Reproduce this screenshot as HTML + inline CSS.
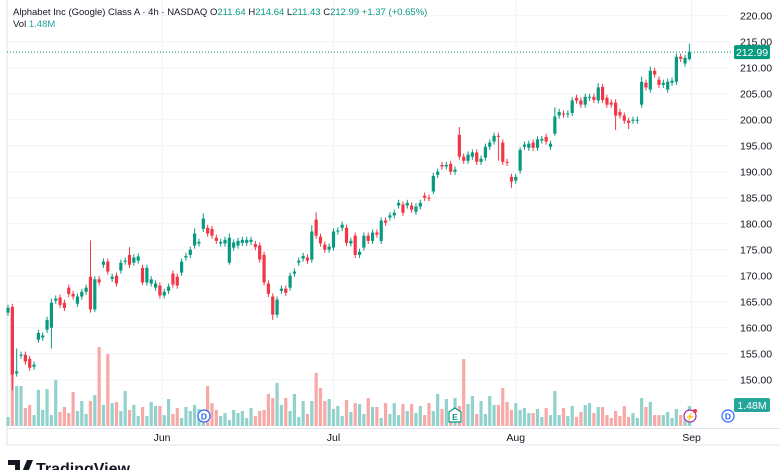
<!DOCTYPE html>
<html><head><meta charset="utf-8"><style>
body{margin:0;background:#fff;width:780px;height:470px;overflow:hidden;font-family:"Liberation Sans",sans-serif}
svg{display:block}
</style></head><body>
<svg id="chart" width="780" height="470" xmlns="http://www.w3.org/2000/svg">
<rect x="0" y="0" width="780" height="470" fill="#fff"/>
<g id="grid"></g>
<g id="vol"></g>
<g id="candles"></g>
<g id="axis"></g>
<g id="overlay"></g>
</svg>
<script>
const openP=[162.9,164.0,151.2,154.6,154.8,154.0,152.5,157.7,158.1,159.6,160.0,165.2,165.8,164.8,167.7,166.5,164.6,166.0,166.9,169.8,163.5,169.3,172.1,172.7,169.4,170.0,171.0,172.7,174.0,172.5,172.9,171.5,168.7,168.5,167.7,168.1,166.2,167.1,170.4,169.8,170.6,173.5,174.0,175.8,176.2,179.0,179.2,179.0,177.3,176.2,176.2,172.5,175.4,175.8,176.3,176.3,176.5,176.1,175.8,174.0,168.5,166.0,162.5,167.1,167.5,167.7,170.4,172.5,173.3,173.5,173.1,180.8,177.5,176.0,175.0,175.4,178.5,179.2,179.2,176.2,177.7,174.0,175.4,177.7,176.7,178.3,176.7,180.6,181.2,181.6,183.5,183.7,183.5,183.5,182.3,183.3,185.4,185.0,186.2,189.4,191.3,191.0,191.5,190.0,197.1,192.9,192.1,192.9,193.7,191.9,192.7,194.8,195.8,196.9,195.6,191.9,189.0,188.3,190.2,194.8,194.6,195.6,194.6,196.0,196.7,194.8,197.3,200.8,201.2,201.0,201.3,204.2,203.7,202.9,204.2,204.4,203.7,206.3,204.2,203.3,203.3,201.5,200.8,199.8,199.8,199.8,202.9,207.1,205.8,209.4,207.7,206.7,205.8,207.1,207.3,212.1,210.8,211.64];
const closeP=[163.8,151.0,151.6,154.8,153.5,152.3,152.9,159.0,158.5,161.5,164.8,165.6,164.4,163.8,166.5,166.0,166.0,166.9,167.7,163.5,169.3,168.7,172.7,170.8,169.8,168.5,172.5,172.9,172.1,173.5,173.7,168.7,171.5,169.3,168.5,166.2,166.9,167.9,168.3,168.1,172.7,173.8,175.0,178.1,176.5,181.0,178.1,177.7,176.7,176.5,176.9,177.3,176.4,176.7,176.9,176.9,176.9,175.5,173.1,168.7,166.5,162.5,165.4,167.5,166.7,170.0,170.8,172.9,173.8,172.9,178.5,177.7,176.2,175.0,175.6,178.5,178.7,179.8,176.3,176.7,174.0,174.6,177.7,176.7,178.3,177.9,180.6,180.2,181.6,182.1,184.0,182.1,184.0,182.7,183.3,184.0,185.0,184.9,189.2,190.0,191.0,191.3,190.0,190.4,192.9,192.1,193.3,193.7,191.9,192.5,194.8,195.6,196.9,196.7,191.9,191.7,188.1,189.0,194.2,195.2,195.4,194.6,196.2,196.3,195.8,195.4,200.6,201.5,201.0,201.2,203.7,203.7,202.9,204.4,204.4,203.8,206.2,203.8,202.9,202.9,200.8,200.8,199.8,199.4,200.0,200.0,207.3,206.2,209.4,208.7,206.7,207.1,207.3,207.5,212.1,211.7,211.9,212.99];
const wickDefault=0.6;
const highExtra={2:4.4,10:0.8,19:7.0,28:1.5,43:1.0,45:1.0,51:0.8,59:0.6,70:1.2,71:1.4,104:1.5,118:0.5,126:1.8,131:0.6,136:0.8,146:1.0,148:0.8,157:1.65};
const lowExtra={1:3.0,10:4.0,20:0.5,31:0.5,51:0.4,61:1.0,98:0.5,113:4.6,116:1.2,140:2.8,143:1.2,126:0.4,157:0.2};
const volM=[0.67,7.85,2.96,2.96,1.33,1.56,0.81,2.67,1.19,2.74,0.81,3.41,1.04,1.41,0.96,2.52,1.11,1.85,0.89,1.85,2.30,5.85,1.56,5.33,1.70,1.78,1.11,2.59,1.19,1.56,0.74,1.41,0.74,1.78,1.48,1.48,0.81,2.00,0.89,1.33,0.59,1.41,1.11,1.56,1.26,0.59,2.96,1.70,1.19,0.74,0.96,0.44,1.19,0.96,1.11,0.59,1.33,0.74,
1.11,1.19,2.37,2.07,3.19,1.56,2.07,1.11,2.37,0.67,1.85,0.89,1.85,3.93,2.81,1.85,2.00,1.26,1.48,0.74,1.93,1.04,1.70,1.63,0.89,2.07,1.41,1.41,0.59,1.70,0.89,1.70,0.81,1.63,1.11,1.63,0.96,1.48,0.81,1.70,1.11,2.37,1.26,2.00,0.96,2.07,1.48,4.96,1.63,2.22,0.89,1.85,0.89,2.22,1.56,1.56,
2.81,1.78,1.19,1.70,1.19,1.33,0.96,0.96,1.26,0.67,1.33,0.81,2.59,0.81,1.33,0.74,1.48,0.67,1.04,1.56,1.70,0.96,1.41,1.41,0.81,0.59,1.11,0.74,1.48,0.67,0.96,0.59,2.07,1.41,1.78,0.81,0.81,0.81,1.04,0.59,1.26,0.81,0.59,1.48];
const priceTicks=[150,155,160,165,170,175,180,185,190,195,200,205,210,215,220];
const monthLabels=["Jun","Jul","Aug","Sep"];
const monthIndex=[35.5,75,117,157.5];

const NS="http://www.w3.org/2000/svg";
const plotL=7,plotR=730,volBase=426;
function xOf(i){return 8+i*4.34;}
function yOf(p){return 41.7+(215-p)*5.2;}
function hVol(v){return v*13.5;}
function mk(tag,attrs,parent){const e=document.createElementNS(NS,tag);for(const k in attrs)e.setAttribute(k,attrs[k]);parent.appendChild(e);return e;}
const G=document.getElementById('grid'),V=document.getElementById('vol'),C=document.getElementById('candles'),A=document.getElementById('axis'),O=document.getElementById('overlay');

let fr=mk('rect',{x:plotL,y:-1,width:780-plotL+1,height:446,fill:'none',stroke:'#e0e3eb','stroke-width':1},G);


priceTicks.forEach(p=>{
  const y=yOf(p);
  let l=mk('line',{x1:plotL,x2:plotR,y1:y,y2:y,stroke:'#f0f3fa'},G);
  
  
  let t=mk('text',{x:740,y:y+4,'font-size':10.5,fill:'#131722'},A);
  t.textContent=p.toFixed(2);
  
  
});
monthLabels.forEach((m,k)=>{
  const x=xOf(monthIndex[k]);
  let l=mk('line',{x1:x,x2:x,y1:0,y2:428,stroke:'#f0f3fa'},G);
  
  
  let t=mk('text',{x:x,y:441,'font-size':10.5,fill:'#131722','text-anchor':'middle'},A);
  t.textContent=m;
  
  
});
let bl=mk('line',{x1:plotL,x2:780,y1:428.5,y2:428.5,stroke:'#e0e3eb'},G);



volM.forEach((v,i)=>{
  if(i>=closeP.length)return;
  const up=closeP[i]>=openP[i];
  const h=hVol(v);
  let r=mk('rect',{x:xOf(i)-1.6,y:volBase-h,width:3.2,height:h,fill:up?'#92d2cc':'#f7a9a7'},V);
  
  
});
openP.forEach((o,i)=>{
  const c=closeP[i],up=c>=o,col=up?'#089981':'#f23645';
  const top=Math.max(o,c),bot=Math.min(o,c);
  const hi=top+(highExtra[i]!==undefined?highExtra[i]:wickDefault);
  const lo=bot-(lowExtra[i]!==undefined?lowExtra[i]:wickDefault);
  const x=xOf(i);
  let w=mk('line',{x1:x,x2:x,y1:yOf(hi),y2:yOf(lo),stroke:col,'stroke-width':1},C);
  
  
  const y1=yOf(top),y2=yOf(bot);
  let b=mk('rect',{x:x-1.6,y:y1,width:3.2,height:Math.max(1,y2-y1),fill:col},C);
  
  
});
const last=closeP[closeP.length-1];
let lp=mk('line',{x1:plotL,x2:733,y1:yOf(last),y2:yOf(last),stroke:'#089981','stroke-dasharray':'1 2','stroke-width':1},O);


let lb=mk('rect',{x:734,y:yOf(last)-7,width:36,height:14,rx:2,fill:'#089981'},O);


let lt=mk('text',{x:752,y:yOf(last)+4,'font-size':10.5,fill:'#fff','text-anchor':'middle'},O);
lt.textContent=last.toFixed(2);


let vb=mk('rect',{x:734,y:398,width:36,height:14,rx:2,fill:'#26a69a'},O);


let vt=mk('text',{x:752,y:409,'font-size':10.5,fill:'#fff','text-anchor':'middle'},O);
vt.textContent='1.48M';


</script>
<svg style="position:absolute;left:0;top:0" width="780" height="470" xmlns="http://www.w3.org/2000/svg">
<g><circle cx="204" cy="416" r="6" fill="#fff" stroke="#2962ff" stroke-width="1.2"/><text x="204" y="419.5" font-size="8.5" font-weight="bold" fill="#2962ff" text-anchor="middle">D</text></g>
<g><path d="M449 412 L455 408 L461 412 L461 422 L449 422 Z" fill="#fff" stroke="#089981" stroke-width="1.2"/><text x="455" y="420" font-size="8.5" font-weight="bold" fill="#089981" text-anchor="middle">E</text></g>
<g><circle cx="690" cy="416" r="6" fill="#fff" stroke="#9c27b0" stroke-width="1.2"/><text x="690" y="419.5" font-size="8" fill="#9c27b0" text-anchor="middle">⚡</text><circle cx="695" cy="411" r="2" fill="#f23645"/></g>
<g><circle cx="728" cy="416" r="6" fill="#fff" stroke="#2962ff" stroke-width="1.2"/><text x="728" y="419.5" font-size="8.5" font-weight="bold" fill="#2962ff" text-anchor="middle">D</text></g>
<text x="13" y="15" font-size="9.5" fill="#131722">Alphabet Inc (Google) Class A · 4h · NASDAQ  O<tspan fill="#089981">211.64</tspan> H<tspan fill="#089981">214.64</tspan> L<tspan fill="#089981">211.43</tspan> C<tspan fill="#089981">212.99</tspan> <tspan fill="#089981">+1.37 (+0.65%)</tspan></text>
<text x="13" y="27" font-size="9.5" fill="#131722">Vol <tspan fill="#26a69a">1.48M</tspan></text>
<g><path d="M8 460 H20 V472 H15 V465 H8 Z" fill="#131722"/><path d="M22 472 L27 460 H33 L28 472 Z" fill="#131722"/><text x="36" y="474" font-size="16" font-weight="bold" fill="#131722">TradingView</text></g>
</svg>
</body></html>
